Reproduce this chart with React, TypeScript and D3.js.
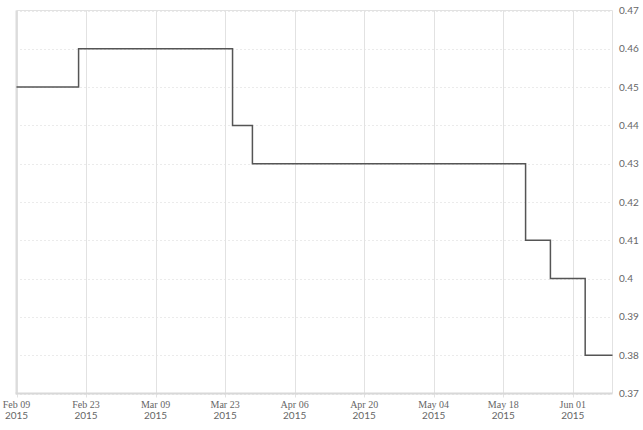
import React from "react";
import * as d3 from "d3";

const stepDates = ["2015-02-09T00", "2015-02-21T12", "2015-03-24T12", "2015-03-28T12", "2015-05-22T12", "2015-05-27T12", "2015-06-03T12", "2015-06-09T00"];
const stepValues = [0.45, 0.46, 0.44, 0.43, 0.41, 0.40, 0.38, 0.38];
const xTickDates = ["2015-02-09T00", "2015-02-23T00", "2015-03-09T00", "2015-03-23T00", "2015-04-06T00", "2015-04-20T00", "2015-05-04T00", "2015-05-18T00", "2015-06-01T00"];
const yTicks = [0.37, 0.38, 0.39, 0.4, 0.41, 0.42, 0.43, 0.44, 0.45, 0.46, 0.47];
const xDomain = ["2015-02-09T00", "2015-06-09T00"];

const parse = d3.utcParse("%Y-%m-%dT%H");
const fmtMonth = d3.utcFormat("%b %d");
const fmtYear = d3.utcFormat("%Y");

export default function App() {
  const W = 643, H = 430;
  const left = 16.5, right = 612.5, top = 10.5, bottom = 393.5;
  const x = d3.scaleUtc().domain(xDomain.map((d) => parse(d) as Date)).range([left, right]);
  const y = d3.scaleLinear().domain([0.37, 0.47]).range([bottom, top]);
  const data = stepDates.map((d, i) => ({ date: parse(d) as Date, v: stepValues[i] }));
  const line = d3
    .line<{ date: Date; v: number }>()
    .x((d) => x(d.date))
    .y((d) => y(d.v))
    .curve(d3.curveStepAfter);

  return (
    <svg width={W} height={H} style={{ position: "absolute", left: 0, top: 0 }}>
      <rect x={0} y={0} width={W} height={H} fill="#fff" />
      {yTicks.map((t) => (
        <line key={"hg" + t} x1={left} x2={right} y1={Math.round(y(t)) + 0.5} y2={Math.round(y(t)) + 0.5} stroke="#d6d6d6" strokeDasharray="1,3" />
      ))}
      {xTickDates.map((d) => {
        const xx = Math.round(x(parse(d) as Date)) + 0.5;
        return <line key={"vg" + d} x1={xx} x2={xx} y1={top} y2={bottom + 4} stroke="#e2e2e2" />;
      })}
      <line x1={left} x2={right} y1={top} y2={top} stroke="#e2e2e2" />
      <line x1={right} x2={right} y1={top} y2={bottom} stroke="#e2e2e2" />
      <line x1={left} x2={left} y1={top} y2={bottom} stroke="#dcdcdc" strokeWidth={2} />
      <line x1={left - 1} x2={right} y1={bottom} y2={bottom} stroke="#d8d8d8" strokeWidth={2} />
      <path d={line(data) || ""} fill="none" stroke="#555" strokeWidth={1.5} />
      {yTicks.map((t) => (
        <text key={"yl" + t} x={619} y={y(t)} dy="0.35em" fontFamily="Lato, 'Open Sans', sans-serif" fontSize={10} fill="#666">
          {String(+t.toFixed(2))}
        </text>
      ))}
      {xTickDates.map((d) => {
        const dt = parse(d) as Date;
        const xx = x(dt);
        return (
          <g key={"xl" + d}>
            <text x={xx} y={408} textAnchor="middle" fontFamily="'Liberation Serif', serif" fontSize={10} fill="#666">
              {fmtMonth(dt)}
            </text>
            <text x={xx} y={419} textAnchor="middle" fontFamily="Lato, sans-serif" fontSize={10} fill="#666">
              {fmtYear(dt)}
            </text>
          </g>
        );
      })}
    </svg>
  );
}
